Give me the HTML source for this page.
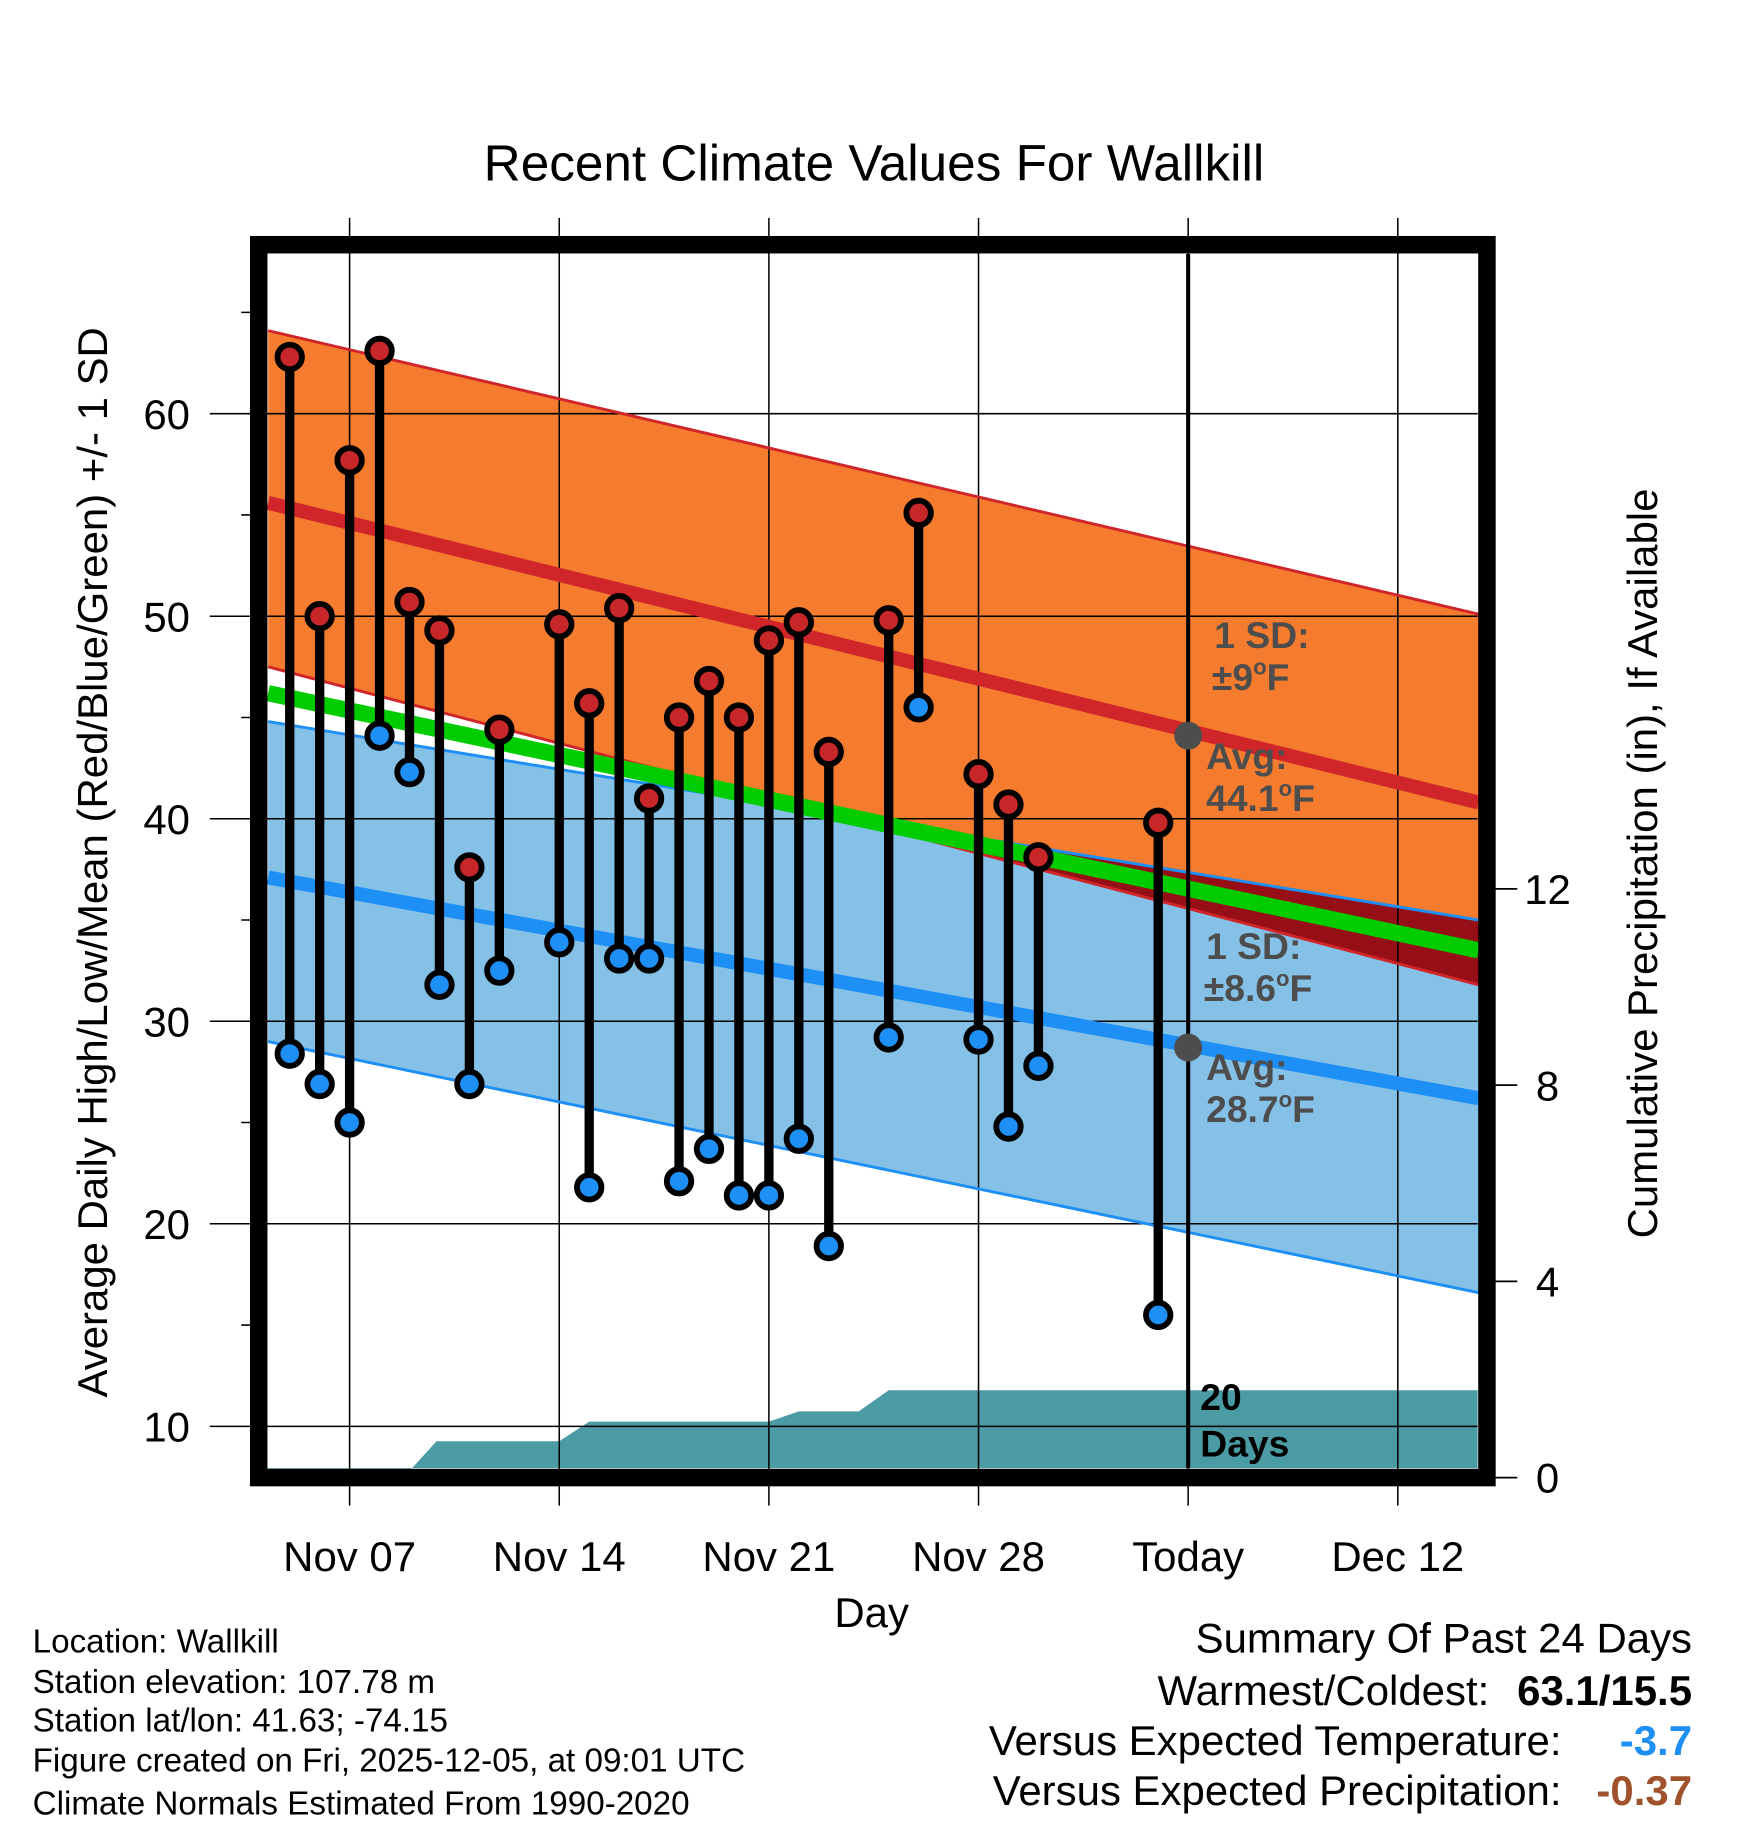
<!DOCTYPE html>
<html><head><meta charset="utf-8">
<style>html,body{margin:0;padding:0;background:#fff}svg{display:block}text{font-family:"Liberation Sans",Arial,sans-serif}</style>
</head><body>
<svg id="chart" xmlns="http://www.w3.org/2000/svg" width="1748" height="1828" viewBox="0 0 1500 1568.7">
<g id="fills"></g><g id="grid"></g><g id="lines"></g><g id="marks"></g><g id="frame"></g><g id="labels"></g>
</svg>
<script>
const days = [-2,-1,0,1,2,3,4,5,7,8,9,10,11,12,13,14,15,16,18,19,21,22,23,27];
const highs = [62.8,50.0,57.7,63.1,50.7,49.3,37.6,44.4,49.6,45.7,50.4,41.0,45.0,46.8,45.0,48.8,49.7,43.3,49.8,55.1,42.2,40.7,38.1,39.8];
const lows = [28.4,26.9,25.0,44.1,42.3,31.8,26.9,32.5,33.9,21.8,33.1,33.1,22.1,23.7,21.4,21.4,24.2,18.9,29.2,45.5,29.1,24.8,27.8,15.5];
const precipDays = [-3,1.8,2.9,7,8,14,15,17,18,28,37.7];
const precipCum = [0,0,0.74,0.74,1.14,1.14,1.35,1.35,1.78,1.78,1.78];
const bandEnds = [-2.72,37.7];
const redUpper = [64.1,50.1];
const redAvg = [55.6,40.8];
const redLower = [47.5,31.8];
const blueUpper = [44.8,35.0];
const blueAvg = [37.1,26.2];
const blueLower = [29.0,16.6];
const greenMean = [46.2,33.5];
const xTickDays = [0,7,14,21,28,35];
const xTickLabels = ["Nov 07","Nov 14","Nov 21","Nov 28","Today","Dec 12"];
const yTicks = [10,20,30,40,50,60];
const pTicks = [0,4,8,12];
const todayDay = 28;
const todayAvgHigh = 44.1, todayAvgLow = 28.7;

const L=230,R=1268,T=218,B=1260;
const X = d => 300 + d*25.7;
const Y = t => 355 + (60-t)*17.38;
const P = p => 1268 - p*42.1;
const NS="http://www.w3.org/2000/svg";
function mk(parent,tag,attrs,text){const e=document.createElementNS(NS,tag);for(const k in attrs)e.setAttribute(k,attrs[k]);if(text!==undefined)e.textContent=text;document.getElementById(parent).appendChild(e);return e;}
function lerp(a,f){return a[0]+(a[1]-a[0])*f;}
const x0=X(bandEnds[0]), x1=X(bandEnds[1]);
function band(up,lo){return `${x0},${Y(up[0])} ${x1},${Y(up[1])} ${x1},${Y(lo[1])} ${x0},${Y(lo[0])}`;}

let e;
e=mk('fills','polygon',{points:band(blueUpper,blueLower),fill:'#85c1e7'});


e=mk('fills','polygon',{points:band(redUpper,redLower),fill:'#f57b2e'});


const fc=(redLower[0]-blueUpper[0])/((redLower[0]-blueUpper[0])-(redLower[1]-blueUpper[1]));
const xc=x0+(x1-x0)*fc, tc=lerp(redLower,fc);
e=mk('fills','polygon',{points:`${xc},${Y(tc)} ${x1},${Y(blueUpper[1])} ${x1},${Y(redLower[1])}`,fill:'#960f16'});


let pts=[];
precipDays.forEach((d,i)=>pts.push(`${Math.max(L,Math.min(R,X(d)))},${P(precipCum[i])}`));
pts.push(`${R},${B}`,`${L},${B}`);
e=mk('fills','polygon',{points:pts.join(' '),fill:'#4a9ba4'});



yTicks.forEach(t=>{
  e=mk('grid','line',{x1:180,x2:R,y1:Y(t),y2:Y(t),stroke:'#000','stroke-width':1.3});
  
  
  e=mk('labels','text',{x:143,y:Y(t)+13,'font-size':36,'text-anchor':'middle'},String(t));
  
  
});
for(let t=10;t<=65;t+=5){ if(t%10){e=mk('grid','line',{x1:207,x2:222,y1:Y(t),y2:Y(t),stroke:'#000','stroke-width':1.3});
  
  }}
xTickDays.forEach((d,i)=>{
  e=mk('grid','line',{x1:X(d),x2:X(d),y1:187,y2:1292,stroke:'#000','stroke-width':1.3});
  
  
  e=mk('labels','text',{x:X(d),y:1348,'font-size':36,'text-anchor':'middle'},xTickLabels[i]);
  
  
});
pTicks.forEach(p=>{
  e=mk('grid','line',{x1:1276,x2:1302,y1:P(p),y2:P(p),stroke:'#000','stroke-width':1.5});
  
  
  e=mk('labels','text',{x:1328,y:P(p)+13,'font-size':36,'text-anchor':'middle'},String(p));
  
  
});

function ln(arr,col,w,name){e=mk('lines','line',{x1:x0,y1:Y(arr[0]),x2:x1,y2:Y(arr[1]),stroke:col,'stroke-width':w});
  
  }
ln(redUpper,'#d0262a',2.5,'high-upper-sd-line');
ln(redLower,'#d0262a',2.5,'high-lower-sd-line');
ln(blueUpper,'#1e8ff5',2.5,'low-upper-sd-line');
ln(blueLower,'#1e8ff5',2.5,'low-lower-sd-line');
ln(greenMean,'#00cc00',14,'mean-line');
ln(redAvg,'#d0262a',12,'avg-high-line');
ln(blueAvg,'#1e8ff5',12,'avg-low-line');

e=mk('marks','line',{x1:X(todayDay),x2:X(todayDay),y1:T,y2:B,stroke:'#000','stroke-width':3.5});


[todayAvgHigh,todayAvgLow].forEach(v=>{e=mk('marks','circle',{cx:X(todayDay),cy:Y(v),r:12,fill:'#4d4d4d'});
  
  });

days.forEach((d,i)=>{
  e=mk('marks','line',{x1:X(d),x2:X(d),y1:Y(highs[i]),y2:Y(lows[i]),stroke:'#000','stroke-width':8});
  
  
  e=mk('marks','circle',{cx:X(d),cy:Y(highs[i]),r:10.5,fill:'#c8272a',stroke:'#000','stroke-width':5});
  
  
  e=mk('marks','circle',{cx:X(d),cy:Y(lows[i]),r:10.5,fill:'#1e8ff5',stroke:'#000','stroke-width':5});
  
  
});

e=mk('frame','rect',{x:222,y:210,width:1054,height:1058,fill:'none',stroke:'#000','stroke-width':15});


</script>
<svg style="position:absolute;left:0;top:0" width="1748" height="1828" viewBox="0 0 1500 1568.7" xmlns="http://www.w3.org/2000/svg">
<g font-family="Liberation Sans, Arial, sans-serif">
<text x="750" y="155" font-size="44" text-anchor="middle">Recent Climate Values For Wallkill</text>
<text transform="translate(92,740) rotate(-90)" font-size="36" text-anchor="middle">Average Daily High/Low/Mean (Red/Blue/Green) +/- 1 SD</text>
<text transform="translate(1422,741) rotate(-90)" font-size="36" text-anchor="middle">Cumulative Precipitation (in), If Available</text>
<text x="748" y="1396" font-size="36" text-anchor="middle">Day</text>
<g fill="#4d4d4d" font-weight="bold" font-size="32">
<text x="1042" y="556">1 SD:</text><text x="1040" y="592">±9<tspan font-size="19" dy="-13">o</tspan><tspan dy="13">F</tspan></text>
<text x="1035" y="660">Avg:</text><text x="1035" y="696">44.1<tspan font-size="19" dy="-13">o</tspan><tspan dy="13">F</tspan></text>
<text x="1035" y="823">1 SD:</text><text x="1033" y="859">±8.6<tspan font-size="19" dy="-13">o</tspan><tspan dy="13">F</tspan></text>
<text x="1035" y="927">Avg:</text><text x="1035" y="963">28.7<tspan font-size="19" dy="-13">o</tspan><tspan dy="13">F</tspan></text>
</g>
<text x="1030" y="1210" font-size="32" font-weight="bold">20</text>
<text x="1030" y="1250" font-size="32" font-weight="bold">Days</text>
<g font-size="28.5">
<text x="28" y="1418">Location: Wallkill</text>
<text x="28" y="1453">Station elevation: 107.78 m</text>
<text x="28" y="1486">Station lat/lon: 41.63; -74.15</text>
<text x="28" y="1520">Figure created on Fri, 2025-12-05, at 09:01 UTC</text>
<text x="28" y="1557">Climate Normals Estimated From 1990-2020</text>
</g>
<g font-size="36">
<text x="1452" y="1418" text-anchor="end">Summary Of Past 24 Days</text>
<text x="1278" y="1463" text-anchor="end">Warmest/Coldest:</text>
<text x="1452" y="1463" text-anchor="end" font-weight="bold">63.1/15.5</text>
<text x="1340" y="1506" text-anchor="end">Versus Expected Temperature:</text>
<text x="1452" y="1506" text-anchor="end" font-weight="bold" fill="#1e8ff5">-3.7</text>
<text x="1340" y="1549" text-anchor="end">Versus Expected Precipitation:</text>
<text x="1452" y="1549" text-anchor="end" font-weight="bold" fill="#a0522d">-0.37</text>
</g>
</g>
</svg>
</body></html>
